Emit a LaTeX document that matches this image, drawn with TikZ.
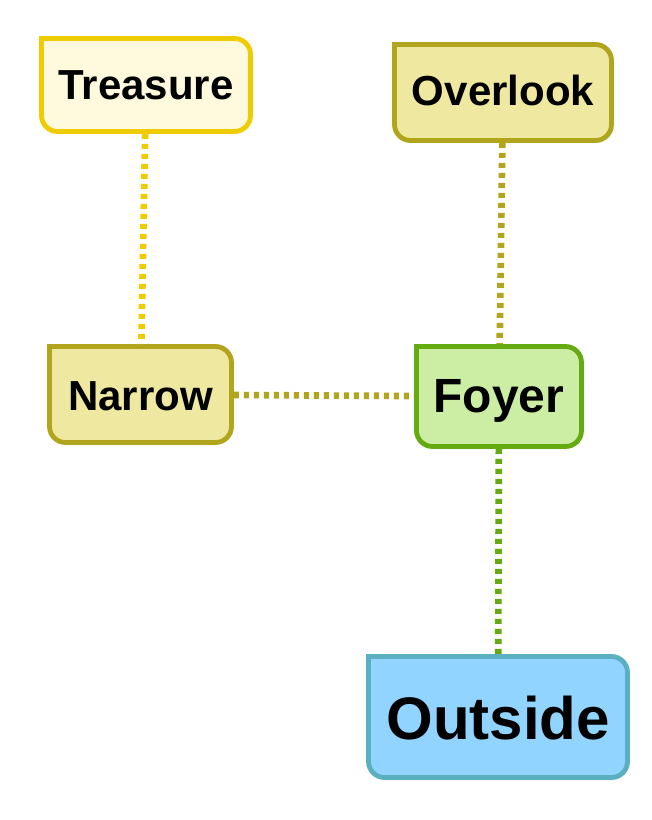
\documentclass[tikz,border=0pt]{standalone}
\usepackage{fontspec}
\setmainfont{Liberation Sans}
\usetikzlibrary{calc,backgrounds}

\definecolor{goldline}{RGB}{238,204,0}
\definecolor{goldfill}{RGB}{255,249,221}
\definecolor{oliveline}{RGB}{176,165,28}
\definecolor{olivefill}{RGB}{238,232,160}
\definecolor{greenline}{RGB}{102,170,17}
\definecolor{greenfill}{RGB}{204,238,164}
\definecolor{blueline}{RGB}{90,175,192}
\definecolor{bluefill}{RGB}{144,212,255}

\tikzset{every picture/.style={line width=0.75pt}}
\tikzset{
  room/.style={inner sep=0pt, text depth=0pt, font=\bfseries\fontsize{31.5}{36}\selectfont},
  link/.style={line width=5pt, dash pattern=on 3.75pt off 3.75pt, shorten <=1.8pt, shorten >=1.8pt}
}

% frame with a sharp top left corner, drawn round a named node
\newcommand{\roomframe}[3]{%
  \draw[line width=3.6pt, draw=#2, fill=#3] (#1.north west) -- ($(#1.north east)+(-16,0)$) arc[start angle=-90,end angle=0,radius=16] -- ($(#1.south east)+(0,-16)$) arc[start angle=0,end angle=90,radius=16] -- ($(#1.south west)+(16,0)$) arc[start angle=90,end angle=180,radius=16] -- cycle ;
}

\begin{document}
\begin{tikzpicture}[x=0.75pt,y=0.75pt,yscale=-1,xscale=1]
\useasboundingbox (0,0) rectangle (652,820);

%Room: Treasure
\node [room, minimum width=156pt, minimum height=69pt, text height=22.5pt] (treasure) at (146,85) {Treasure};
%Room: Overlook
\node [room, minimum width=162pt, minimum height=71.25pt, text height=20.25pt] (overlook) at (503,92.5) {Overlook};
%Room: Narrow
\node [room, minimum width=135.75pt, minimum height=71.25pt, text height=23.25pt] (narrow) at (140.5,394.5) {Narrow};
%Room: Foyer
\node [room, minimum width=123pt, minimum height=74.25pt, text height=23.25pt, font=\bfseries\fontsize{36}{40}\selectfont] (foyer) at (499,396.5) {Foyer};
%Room: Outside
\node [room, minimum width=193.5pt, minimum height=90pt, text height=33pt, font=\bfseries\fontsize{45}{50}\selectfont] (outside) at (498,717) {Outside};

\begin{scope}[on background layer]
\roomframe{treasure}{goldline}{goldfill}
\roomframe{overlook}{oliveline}{olivefill}
\roomframe{narrow}{oliveline}{olivefill}
\roomframe{foyer}{greenline}{greenfill}
\roomframe{outside}{blueline}{bluefill}
\end{scope}

%Links
\draw [link, goldline] (treasure) -- (narrow) ;
\draw [link, oliveline] (overlook) -- (foyer) ;
\draw [link, oliveline] (narrow) -- (foyer) ;
\draw [link, greenline] (foyer) -- (outside) ;

\end{tikzpicture}
\end{document}
